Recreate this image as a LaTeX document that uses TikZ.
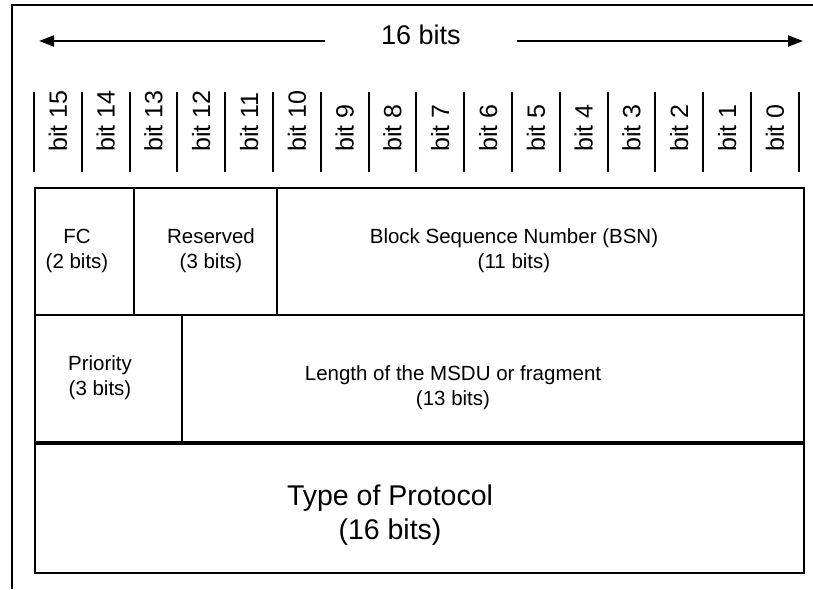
\documentclass[tikz,border=0pt]{standalone}
\usepackage{fontspec}
\setmainfont{Liberation Sans}
\usetikzlibrary{arrows.meta}
\tikzset{
	field/.style={draw, line width=2pt},
	fieldtext/.style={align=center, inner sep=0pt, font=\fontsize{20.5}{25}\selectfont},
	bitlabel/.style={rotate=90, anchor=west, inner sep=0pt, font=\fontsize{25}{30}\selectfont},
	span arrow/.style={line width=2pt, -{Triangle[length=15pt, width=11pt]}}
}

\begin{document}
\begin{tikzpicture}[x=1pt, y=-1pt]
	\useasboundingbox (0,0) rectangle (813,589);
	\draw[line width=2pt] (11.5,589) -- (11.5,4.5) -- (813,4.5);
	
	% word width
	\node[inner xsep=56.5pt, inner ysep=0pt, font=\fontsize{27}{32}\selectfont] at (421,35) (width-text) {16 bits};
	\coordinate (width-left) at (39,41);
	\coordinate (width-right) at (803,41);
	\draw[span arrow] (width-left -| width-text.west) -- (width-left);
	\draw[span arrow] (width-right -| width-text.east) -- (width-right);
	
	% bit ruler
	\foreach \k in {0,...,16}
		\draw[line width=2pt] (34+47.8*\k,92) -- (34+47.8*\k,172);
	\foreach \k [evaluate=\k as \b using int(15-\k)] in {0,...,15}
		\node[bitlabel] (bit-\b) at (57.9+47.8*\k,152) {bit \b};
	
	% first row
	\draw[field] (35,188) rectangle (804,315);
	\draw[field] (134,188) -- (134,315);
	\draw[field] (277,188) -- (277,315);
	\node[fieldtext] (fc) at (77,251) {FC\\(2 bits)};
	\node[fieldtext] (reserved) at (211,251) {Reserved\\(3 bits)};
	\node[fieldtext] (bsn) at (514,251) {Block Sequence Number (BSN)\\(11 bits)};
	
	% second row
	\draw[field] (35,315) rectangle (804,443);
	\draw[field] (182,315) -- (182,443);
	\node[fieldtext] (priority) at (100,378) {Priority\\(3 bits)};
	\node[fieldtext] (length) at (453,388) {Length of the MSDU or fragment\\(13 bits)};
	
	% third row
	\draw[field] (35,443) rectangle (804,573);
	\draw[field, line width=3.5pt] (35,443) -- (804,443);
	\node[fieldtext, font=\fontsize{28.5}{34}\selectfont] (protocol) at (390,515) {Type of Protocol\\(16 bits)};
\end{tikzpicture}
\end{document}
